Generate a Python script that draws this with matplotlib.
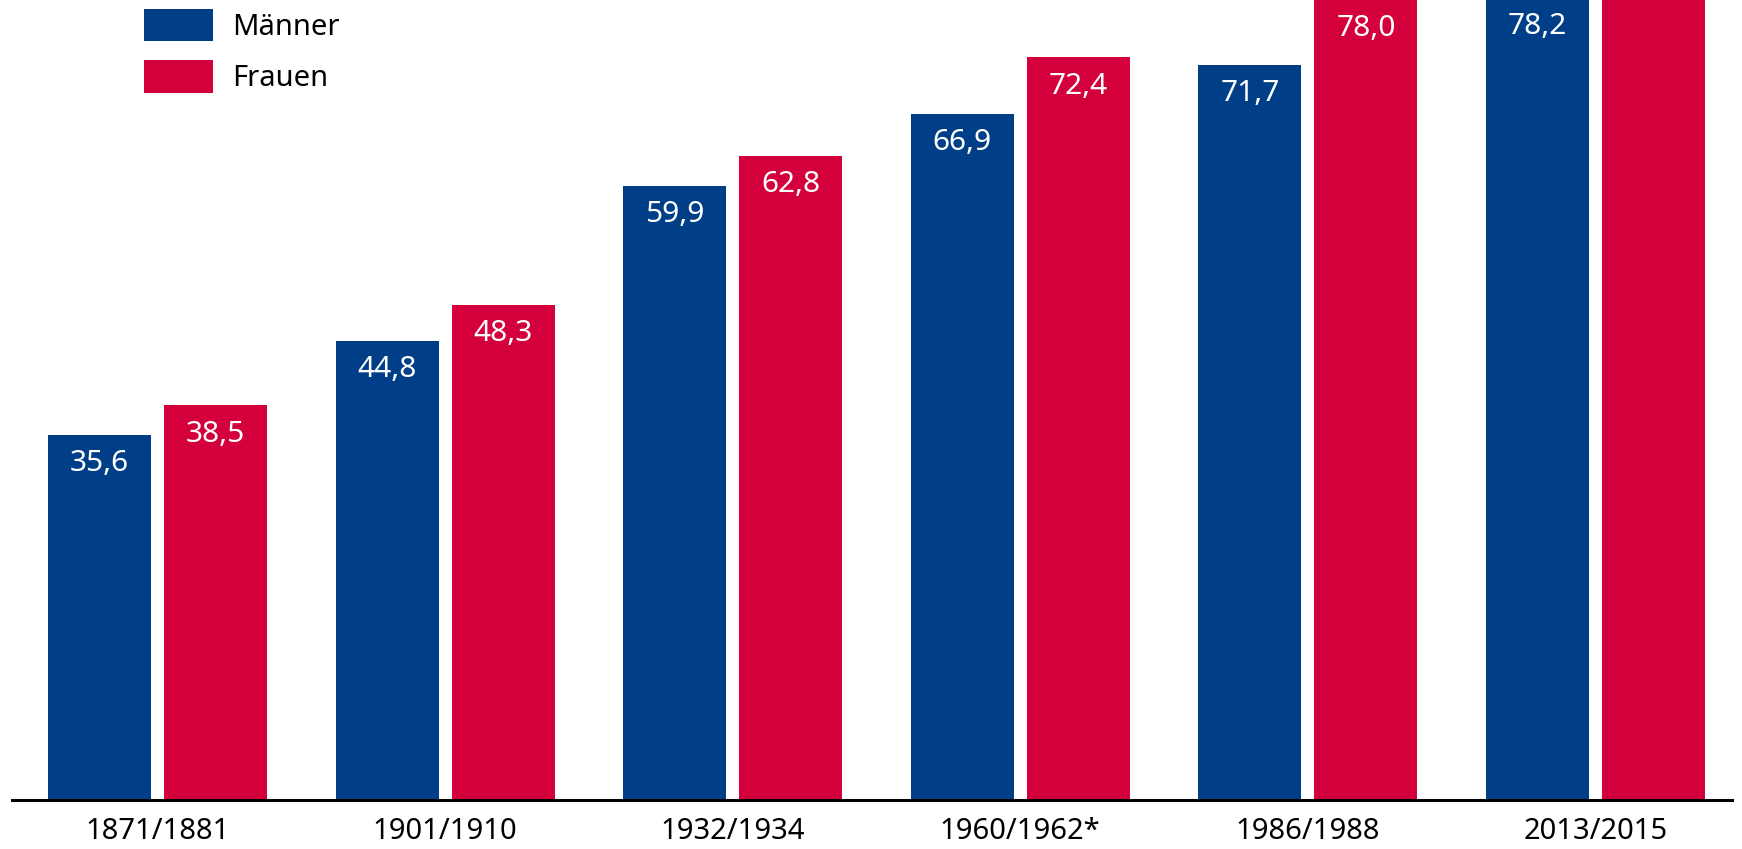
import matplotlib.pyplot as plt
import numpy as np

# Lebenserwartung bei Geburt
perioden = ["1871/1881", "1901/1910", "1932/1934", "1960/1962*", "1986/1988", "2013/2015"]
maenner = [35.6, 44.8, 59.9, 66.9, 71.7, 78.2]
frauen = [38.5, 48.3, 62.8, 72.4, 78.0, 83.1]

blau = "#003f87"
rot = "#d3003c"

plt.rcParams['font.family'] = ['Noto Sans', 'DejaVu Sans']

fig = plt.figure(figsize=(17.42, 8.49), dpi=100)
ax = fig.add_axes([12 / 1742, 49 / 849, 1720 / 1742, 800 / 849])

x = np.arange(len(perioden))
breite = 0.358
versatz = 0.2017
y_max = 78.0

b1 = ax.bar(x - versatz, maenner, breite, color=blau, label="Männer")
b2 = ax.bar(x + versatz, frauen, breite, color=rot, label="Frauen")

ax.set_xlim(-0.506, 5.475)
ax.set_ylim(0, y_max)

for bars, werte in ((b1, maenner), (b2, frauen)):
    for b, v in zip(bars, werte):
        if v > y_max + 1:
            continue  # Beschriftung liegt ausserhalb des Bildausschnitts
        ax.annotate(f"{v:.1f}".replace(".", ","),
                    (b.get_x() + b.get_width() / 2, v),
                    xytext=(0, -29 / 1.389), textcoords="offset points",
                    ha="center", va="center", color="white", fontsize=21.5,
                    annotation_clip=False)

ax.set_xticks(x)
ax.set_xticklabels(perioden, fontsize=21)
ax.tick_params(axis="x", length=0, pad=12)
ax.set_yticks([])
for s in ("top", "right", "left"):
    ax.spines[s].set_visible(False)
ax.spines["bottom"].set_linewidth(2.2)

leg = ax.legend(loc="upper left", bbox_to_anchor=(0.0716, 1.0), frameon=False,
                fontsize=21, handlelength=2.36, handleheight=1.35,
                labelspacing=0.62, handletextpad=0.68, borderaxespad=0,
                borderpad=0.3)

fig.savefig("out.png", dpi=100)
